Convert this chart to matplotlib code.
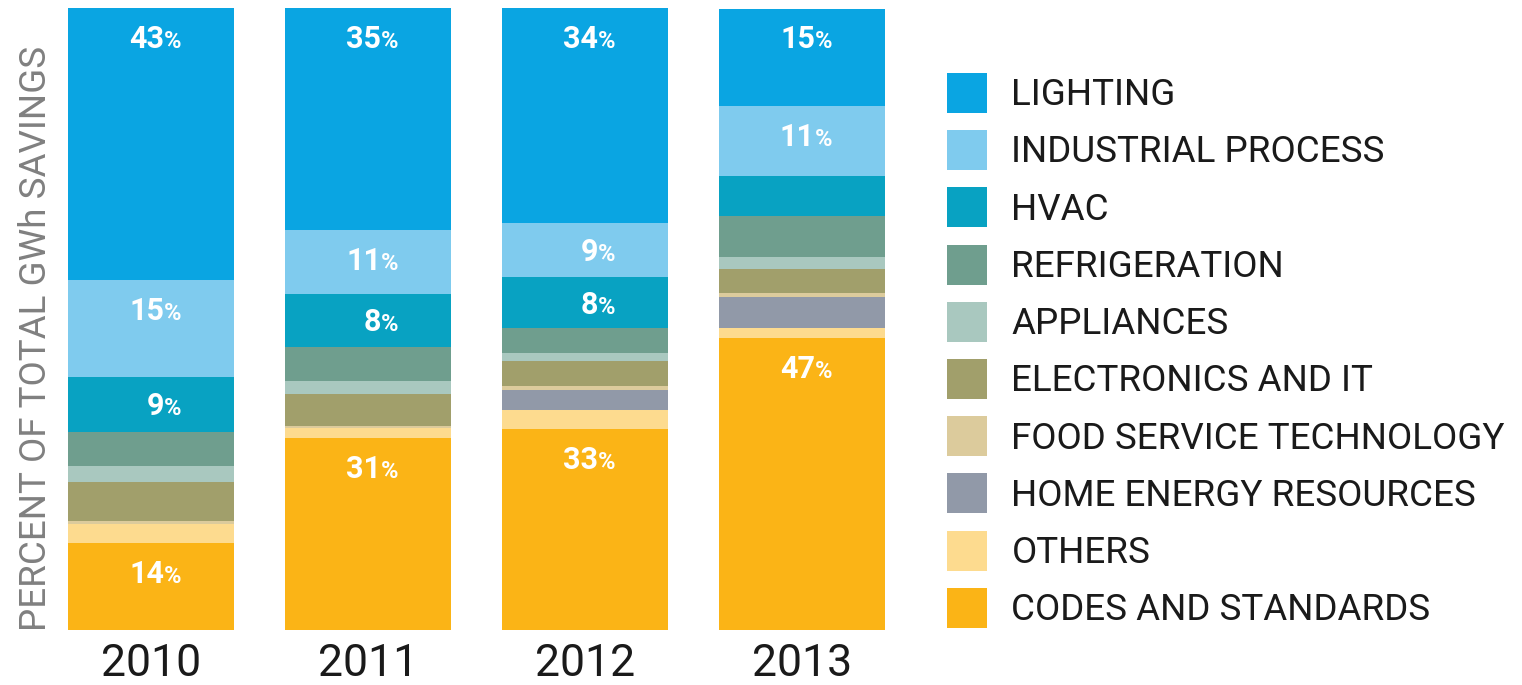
import numpy as np
import matplotlib
matplotlib.use('Agg')
import matplotlib.pyplot as plt
from matplotlib.patches import Patch

years = ['2010', '2011', '2012', '2013']

categories = ['LIGHTING', 'INDUSTRIAL PROCESS', 'HVAC', 'REFRIGERATION', 'APPLIANCES',
              'ELECTRONICS AND IT', 'FOOD SERVICE TECHNOLOGY', 'HOME ENERGY RESOURCES',
              'OTHERS', 'CODES AND STANDARDS']
colors = ['#0aa5e2', '#7fcbee', '#08a2c2', '#6f9e8e', '#a9c8bf',
          '#a19f6b', '#dccb9c', '#9199a8', '#fddb8f', '#fbb416']

# percent of total GWh savings, per year
lighting = [43.7, 35.7, 34.6, 15.6]
industrial = [15.6, 10.3, 8.7, 11.3]
hvac = [8.8, 8.5, 8.2, 6.4]
refrigeration = [5.5, 5.5, 4.0, 6.6]
appliances = [2.6, 2.1, 1.3, 1.9]
electronics = [6.3, 5.1, 4.0, 4.0]
food_service = [0.5, 0.4, 0.6, 0.6]
home_energy = [0.0, 0.0, 3.2, 5.0]
others = [3.0, 1.5, 3.1, 1.6]
codes = [14.0, 30.9, 32.3, 46.9]

# printed labels
lighting_labels = ['43', '35', '34', '15']
industrial_labels = ['15', '11', '9', '11']
hvac_labels = ['9', '8', '8', '']
codes_labels = ['14', '31', '33', '47']

series = [lighting, industrial, hvac, refrigeration, appliances,
          electronics, food_service, home_energy, others, codes]
labels = {0: lighting_labels, 1: industrial_labels, 2: hvac_labels, 9: codes_labels}

font = ['Roboto', 'DejaVu Sans']
plt.rcParams['font.family'] = font

fig = plt.figure(figsize=(15.22, 6.85), dpi=100)
ax = fig.add_axes([68 / 1522, 55 / 685, 817 / 1522, 622 / 685])

x = np.arange(len(years))
width = 0.765
bottom = np.zeros(len(years))
tops = {}
# stack from bottom (codes) to top (lighting)
for i in reversed(range(len(series))):
    vals = np.array(series[i])
    ax.bar(x, vals, width, bottom=bottom, color=colors[i], linewidth=0)
    tops[i] = (bottom + vals, vals)
    bottom = bottom + vals

for i, labs in labels.items():
    top, h = tops[i]
    for j, lab in enumerate(labs):
        if not lab:
            continue
        yc = top[j] - min(4.66, h[j] / 2)
        yb = yc - 1.75
        ax.text(x[j] + 0.06, yb, lab, ha='right', va='baseline', color='white',
                fontsize=22, fontweight='bold')
        ax.text(x[j] + 0.06, yb, '%', ha='left', va='baseline', color='white',
                fontsize=17, fontweight='bold')

ax.set_xlim(-0.383, 3.383)
ax.set_ylim(0, 100)
ax.set_xticks(x)
ax.set_xticklabels(years, fontsize=32, color='#1a1a1a')
ax.tick_params(axis='x', length=0, pad=9)
ax.set_yticks([])
for s in ax.spines.values():
    s.set_visible(False)

fig.text(36 / 1522, 1 - 338 / 685, 'PERCENT OF TOTAL GWh SAVINGS', rotation=90,
         ha='center', va='center', color='#808080', fontsize=26.5)

handles = [Patch(facecolor=c, edgecolor='none') for c in colors]
fig.legend(handles, categories, loc='upper left', bbox_to_anchor=(947 / 1522, 1 - 73 / 685),
           frameon=False, prop={'size': 26.5},
           handlelength=1.1, handleheight=1.29, handletextpad=0.65,
           labelspacing=0.46, borderpad=0, borderaxespad=0, labelcolor='#1a1a1a')

fig.savefig('out.png', dpi=100)
